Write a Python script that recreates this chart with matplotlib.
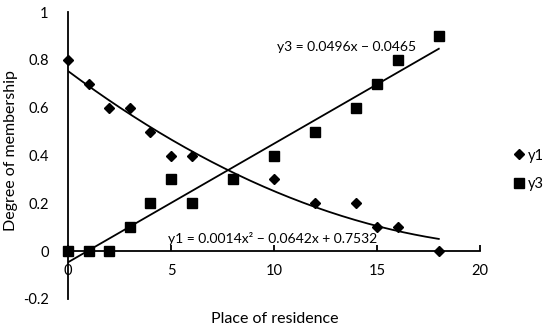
import numpy as np
import matplotlib.pyplot as plt

plt.rcParams['font.family'] = ['Lato', 'DejaVu Sans']

# data
x1 = [0, 1, 2, 3, 4, 5, 6, 8, 10, 12, 14, 15, 16, 18]
y1 = [0.8, 0.7, 0.6, 0.6, 0.5, 0.4, 0.4, 0.3, 0.3, 0.2, 0.2, 0.1, 0.1, 0.0]
x3 = [0, 1, 2, 3, 4, 5, 6, 8, 10, 12, 14, 15, 16, 18]
y3 = [0.0, 0.0, 0.0, 0.1, 0.2, 0.3, 0.2, 0.3, 0.4, 0.5, 0.6, 0.7, 0.8, 0.9]

# trendline coefficients as printed on the chart
poly_y1 = [0.0014, -0.0642, 0.7532]
poly_y3 = [0.0496, -0.0465]

fig = plt.figure(figsize=(5.5, 3.26), dpi=100)
ax = fig.add_axes([68/550, 1-299/326, 412/550, 287/326])

ax.plot(x1, y1, 'D', color='black', markersize=5, label='y1', zorder=3, clip_on=False)
ax.plot(x3, y3, 's', color='black', markersize=7, label='y3', zorder=3, clip_on=False)

xt = np.linspace(min(x1), max(x1), 200)
ax.plot(xt, np.polyval(poly_y1, xt), color='black', lw=1.3)
ax.plot(xt, np.polyval(poly_y3, xt), color='black', lw=1.3)

ax.text(10.15, 0.855, 'y3 = 0.0496x \u2212 0.0465', fontsize=10, va='center', ha='left')
ax.text(4.85, 0.054, 'y1 = 0.0014x\u00b2 \u2212 0.0642x + 0.7532', fontsize=10, va='center', ha='left')

ax.set_xlim(0, 20)
ax.set_ylim(-0.2, 1)
ax.set_xticks([0, 5, 10, 15, 20])
ax.set_yticks([-0.2, 0, 0.2, 0.4, 0.6, 0.8, 1])
ax.set_yticklabels(['-0.2', '0', '0.2', '0.4', '0.6', '0.8', '1'])

ax.spines['top'].set_visible(False)
ax.spines['right'].set_visible(False)
ax.spines['bottom'].set_position(('data', 0))
for s in ['left', 'bottom']:
    ax.spines[s].set_linewidth(1.3)

ax.tick_params(axis='x', direction='in', length=4, width=1.3, pad=9, labelsize=10.5)
ax.tick_params(axis='y', length=0, pad=14, labelsize=10.5)
ax.set_yticks([-0.2, 1], minor=True)
ax.tick_params(axis='y', which='minor', direction='in', length=3, width=1.3)

ax.set_xlabel('Place of residence', fontsize=11.5)
ax.set_ylabel('Degree of membership', fontsize=11.5)
ax.xaxis.set_label_coords(0.502, -0.045)
ax.yaxis.set_label_coords(-0.121, 0.516)

ax.legend(loc='center left', bbox_to_anchor=(1.07, 0.45), frameon=False, fontsize=10.5,
          handlelength=0.6, handletextpad=0.3, labelspacing=1.0, borderaxespad=0)

fig.savefig('out.png', dpi=100)
